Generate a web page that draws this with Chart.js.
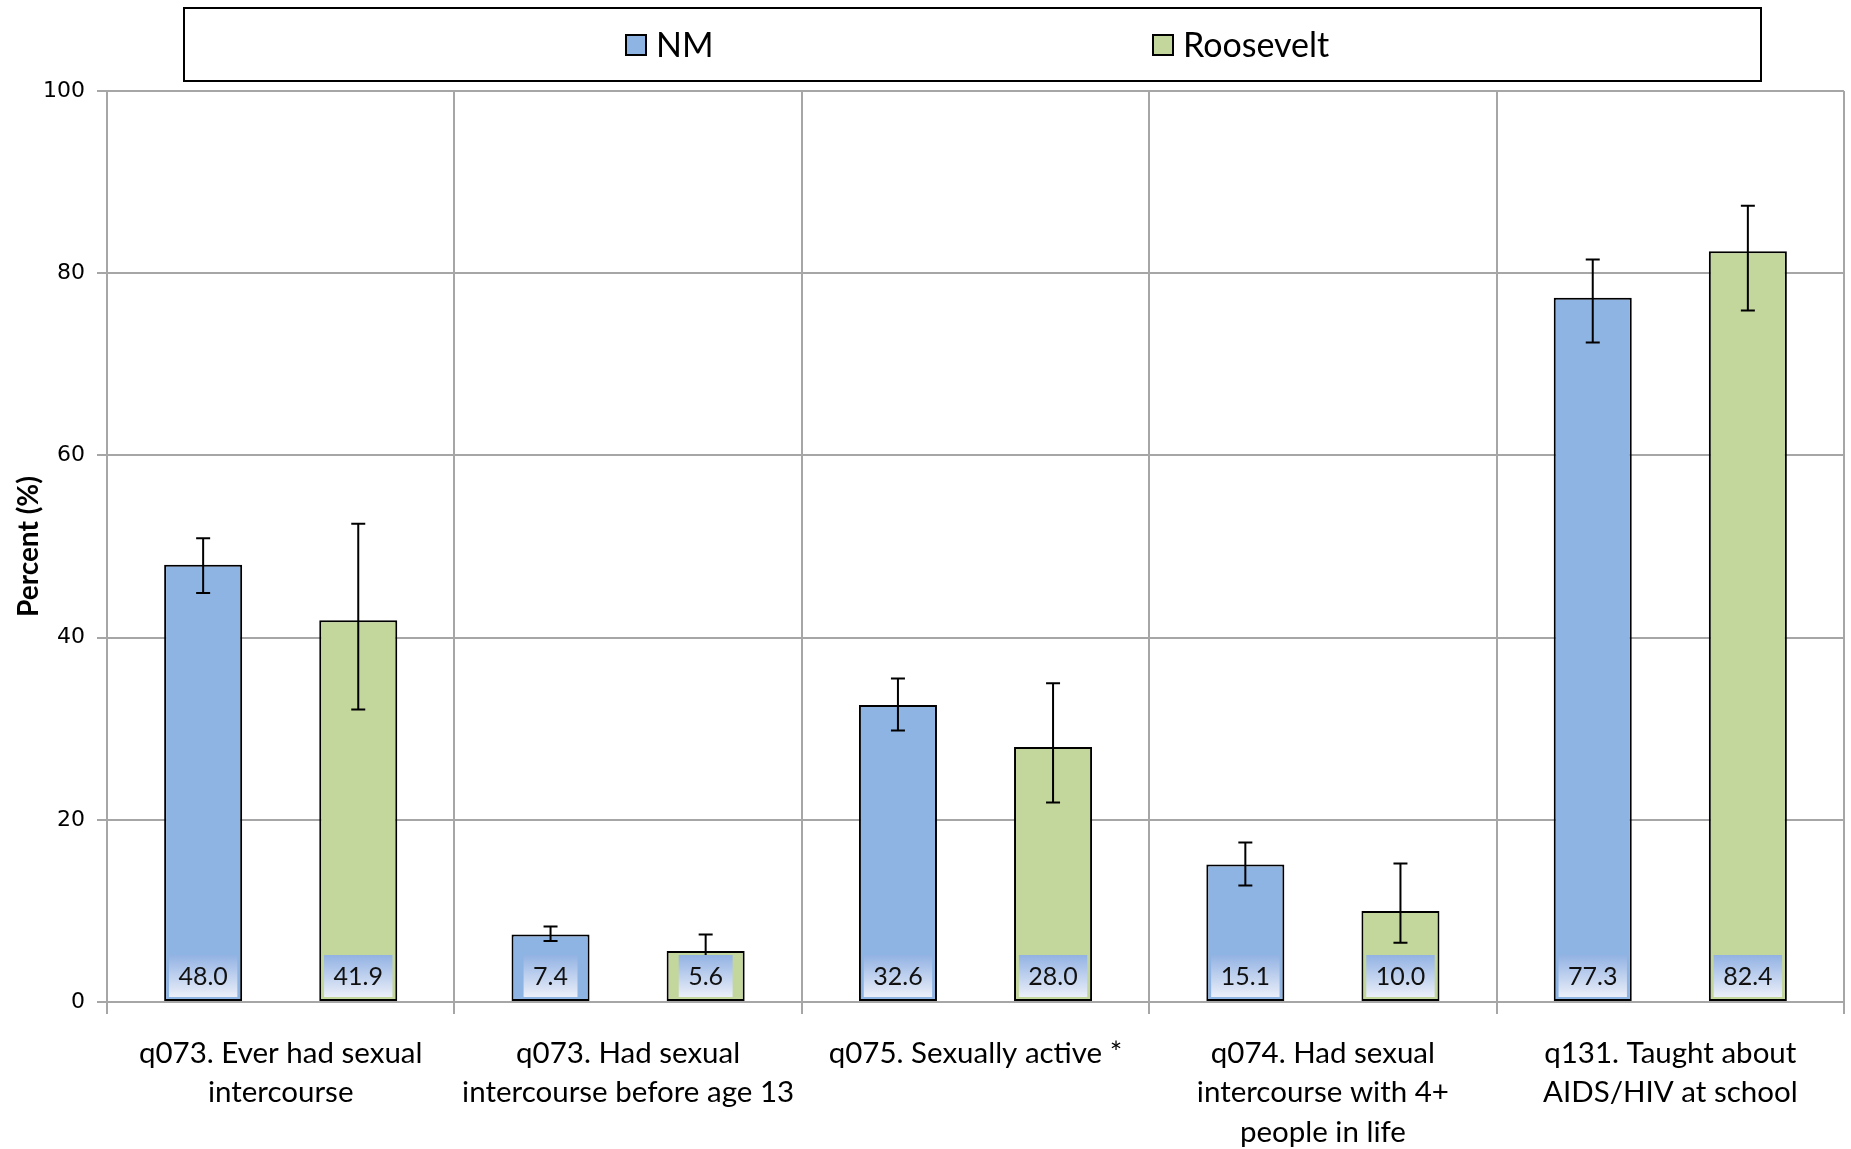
<!DOCTYPE html>
<html>
<head>
<meta charset="utf-8">
<script src="https://cdn.jsdelivr.net/npm/chart.js"></script>
<style>
  html, body { margin: 0; padding: 0; background: #fff; }
  #wrap { width: 1851px; height: 1149px; }
</style>
</head>
<body>
<div id="wrap"><canvas id="chart" width="1851" height="1149"></canvas></div>
<script>
// categories (multi-line x labels)
const categories = [
    ['q073. Ever had sexual', 'intercourse'],
    ['q073. Had sexual', 'intercourse before age 13'],
    ['q075. Sexually active *'],
    ['q074. Had sexual', 'intercourse with 4+', 'people in life'],
    ['q131. Taught about', 'AIDS/HIV at school']
];
const seriesNames = ['NM', 'Roosevelt'];

// values and confidence intervals
const nmValues = [48.0, 7.4, 32.6, 15.1, 77.3];
const nmLower = [44.9, 6.7, 29.8, 12.8, 72.4];
const nmUpper = [50.9, 8.3, 35.5, 17.5, 81.5];

const rooseveltValues = [41.9, 5.6, 28.0, 10.0, 82.4];
const rooseveltLower = [32.1, 3.8, 21.9, 6.5, 75.9];
const rooseveltUpper = [52.5, 7.4, 35.0, 15.2, 87.4];

const yTicks = [0, 20, 40, 60, 80, 100];

const colors = ['#8EB4E3', '#C3D69B'];
const errLow = [nmLower, rooseveltLower];
const errHigh = [nmUpper, rooseveltUpper];

// error bars + value boxes at the bottom of each bar
const barExtras = {
    id: 'barExtras',
    afterDatasetsDraw(chart) {
        const ctx = chart.ctx;
        const y = chart.scales.y;
        ctx.save();
        chart.data.datasets.forEach((ds, di) => {
            const meta = chart.getDatasetMeta(di);
            meta.data.forEach((bar, i) => {
                const yl = y.getPixelForValue(errLow[di][i]);
                const yh = y.getPixelForValue(errHigh[di][i]);
                ctx.strokeStyle = '#000';
                ctx.lineWidth = 2;
                ctx.beginPath();
                ctx.moveTo(bar.x, yl); ctx.lineTo(bar.x, yh);
                ctx.moveTo(bar.x - 7, yl); ctx.lineTo(bar.x + 7, yl);
                ctx.moveTo(bar.x - 7, yh); ctx.lineTo(bar.x + 7, yh);
                ctx.stroke();
            });
        });
        chart.data.datasets.forEach((ds, di) => {
            const meta = chart.getDatasetMeta(di);
            meta.data.forEach((bar, i) => {
                const base = y.getPixelForValue(0);
                const txt = ds.data[i].toFixed(1);
                ctx.font = '25px Lato';
                const w = ctx.measureText(txt).width + 19, h = 42;
                const top = base - 5 - h;
                const g = ctx.createLinearGradient(0, top, 0, top + h);
                g.addColorStop(0, '#92B2E3');
                g.addColorStop(1, '#EBEFF9');
                ctx.fillStyle = g;
                ctx.fillRect(bar.x - w / 2, top, w, h);
                ctx.fillStyle = '#111';
                ctx.textAlign = 'center';
                ctx.textBaseline = 'middle';
                ctx.fillText(txt, bar.x, top + h / 2 + 1);
            });
        });
        ctx.restore();
    },
    afterDraw(chart) {
        // boxed legend
        const ctx = chart.ctx;
        ctx.save();
        ctx.strokeStyle = '#000';
        ctx.lineWidth = 2;
        ctx.strokeRect(184, 8, 1577, 73);
        const xs = [626, 1153];
        chart.data.datasets.forEach((ds, di) => {
            ctx.fillStyle = colors[di];
            ctx.fillRect(xs[di], 35, 20, 20);
            ctx.strokeRect(xs[di], 35, 20, 20);
            ctx.fillStyle = '#000';
            ctx.font = '34px Lato';
            ctx.textAlign = 'left';
            ctx.textBaseline = 'middle';
            ctx.fillText(ds.label, xs[di] + 30, 46);
        });
        ctx.restore();
    }
};

new Chart(document.getElementById('chart'), {
    type: 'bar',
    data: {
        labels: categories,
        datasets: [
            { label: seriesNames[0], data: nmValues, backgroundColor: colors[0] },
            { label: seriesNames[1], data: rooseveltValues, backgroundColor: colors[1] }
        ]
    },
    options: {
        responsive: false,
        animation: false,
        datasets: {
            bar: {
                borderColor: '#000',
                borderWidth: 2,
                borderSkipped: false,
                categoryPercentage: 0.893,
                barPercentage: 0.503
            }
        },
        layout: { padding: { top: 91, right: 7, left: 0, bottom: 0 } },
        plugins: {
            legend: { display: false },
            tooltip: { enabled: false }
        },
        scales: {
            x: {
                grid: { color: '#A6A6A6', lineWidth: 2, offset: true, tickLength: 12 },
                border: { color: '#A6A6A6', width: 2 },
                ticks: {
                    color: '#000',
                    font: { family: 'Lato', size: 29.5, lineHeight: 1.33 },
                    padding: 20,
                    maxRotation: 0,
                    autoSkip: false
                },
                afterFit(s) { s.height = 147; }
            },
            y: {
                min: 0,
                max: 100,
                afterBuildTicks(s) { s.ticks = yTicks.map(v => ({ value: v })); },
                grid: { color: '#A6A6A6', lineWidth: 2, tickLength: 10 },
                border: { color: '#A6A6A6', width: 2 },
                ticks: {
                    color: '#000',
                    font: { family: 'DejaVu Sans', size: 22 },
                    padding: 12
                },
                title: {
                    display: true,
                    text: 'Percent (%)',
                    color: '#000',
                    font: { family: 'Lato', size: 28, weight: 'bold' },
                    padding: { top: 12, bottom: 4 }
                },
                afterFit(s) { s.width = 107; }
            }
        }
    },
    plugins: [barExtras]
});
</script>
</body>
</html>
